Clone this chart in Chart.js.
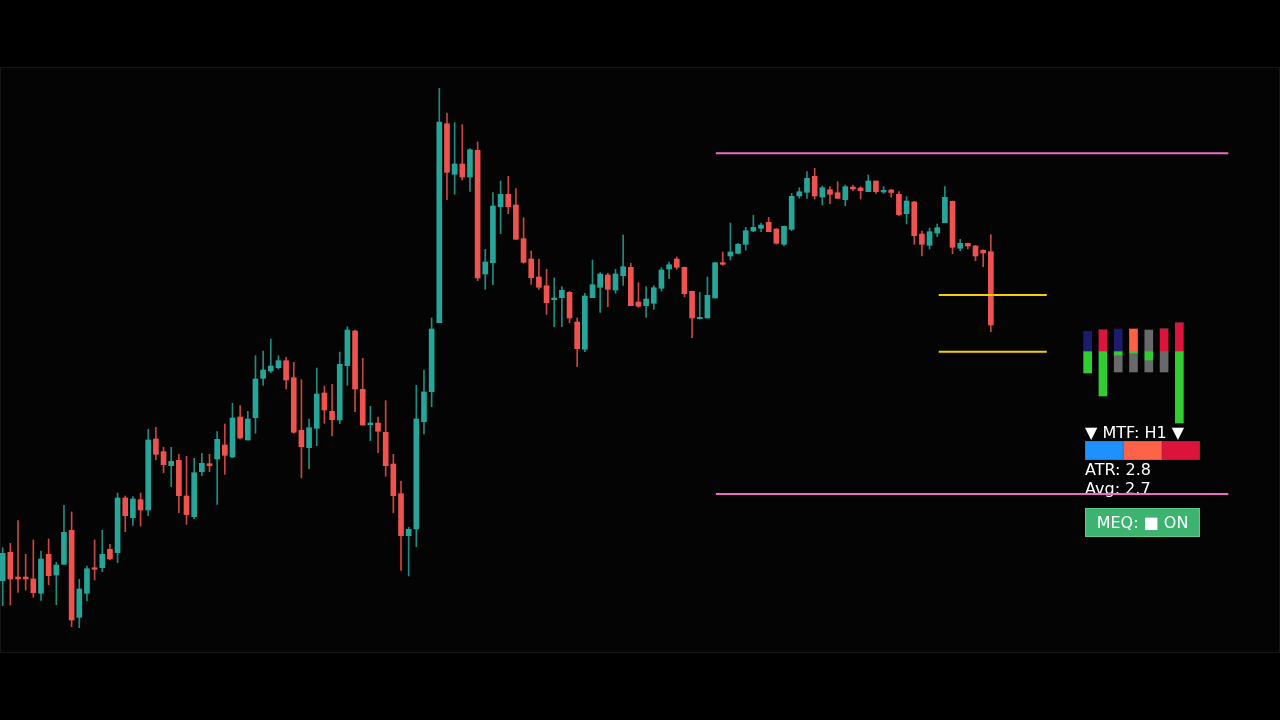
<!DOCTYPE html>
<html>
<head>
<meta charset="utf-8">
<script src="https://cdn.jsdelivr.net/npm/chart.js@4.4.1/dist/chart.umd.min.js"></script>
<style>
  html, body { margin:0; padding:0; background:#000; width:1280px; height:720px; overflow:hidden; font-family:"DejaVu Sans", sans-serif; }
  #frame { position:absolute; left:0; top:67px; width:1278px; height:584px; border:1px solid #161616; background:#040404; }
  #main { position:absolute; left:0; top:0; z-index:5; }
  #strength { position:absolute; left:1080px; top:320px; z-index:2; }
  #mtfBar { position:absolute; left:1085px; top:441px; z-index:2; }
  .txt { position:absolute; left:1085px; color:#fff; font-size:16px; line-height:16px; white-space:nowrap; z-index:2; }
  #meq { position:absolute; left:1085px; top:508px; width:113px; height:27px; background:#3cb371; border:1px solid #5ccb8c;
         color:#fff; font-size:16px; line-height:27px; text-align:center; z-index:2; }
</style>
</head>
<body>
<div id="frame"></div>
<canvas id="strength" width="107" height="110"></canvas>
<div class="txt" style="top:425px;">▼ MTF: H1 ▼</div>
<canvas id="mtfBar" width="115" height="19"></canvas>
<div class="txt" style="top:462px;">ATR: 2.8</div>
<div class="txt" style="top:481px;">Avg: 2.7</div>
<div id="meq">MEQ: ■ ON</div>
<canvas id="main" width="1280" height="720"></canvas>
<script>
// OHLC series (one entry per candle, oldest first)
const opens = [
  2341.93, 2344.77, 2342.30, 2342.30, 2342.10, 2340.67, 2344.57, 2342.50, 2343.57, 2346.97,
  2338.27, 2340.67, 2343.23, 2343.23, 2345.07, 2344.73, 2350.20, 2348.23, 2350.03, 2349.00,
  2356.10, 2354.83, 2353.43, 2353.97, 2350.40, 2348.33, 2352.83, 2353.63, 2354.10, 2355.50,
  2354.30, 2358.30, 2356.00, 2358.23, 2362.17, 2362.90, 2363.23, 2363.93, 2362.23, 2356.97,
  2355.23, 2357.17, 2360.70, 2358.87, 2358.00, 2363.43, 2366.90, 2361.07, 2357.53, 2357.70,
  2356.77, 2353.60, 2350.63, 2346.43, 2347.10, 2357.83, 2360.83, 2367.73, 2387.63, 2382.57,
  2383.60, 2382.30, 2384.97, 2372.60, 2373.73, 2379.33, 2380.57, 2379.50, 2376.13, 2374.10,
  2372.30, 2371.43, 2370.03, 2370.23, 2370.77, 2367.80, 2365.07, 2370.23, 2371.27, 2372.50,
  2371.00, 2372.43, 2373.27, 2369.80, 2369.43, 2369.67, 2371.17, 2373.10, 2374.10, 2373.27,
  2370.87, 2368.13, 2368.20, 2370.20, 2373.73, 2374.40, 2374.67, 2375.57, 2376.90, 2377.17,
  2377.77, 2377.10, 2375.57, 2377.07, 2380.40, 2380.77, 2382.37, 2380.30, 2381.03, 2380.73,
  2380.03, 2381.30, 2381.20, 2380.83, 2381.90, 2380.80, 2381.00, 2380.57, 2378.63, 2379.80,
  2376.60, 2375.47, 2376.70, 2377.73, 2379.87, 2375.17, 2375.67, 2375.40, 2374.97, 2374.83
];
const highs = [
  2345.23, 2345.67, 2347.93, 2344.57, 2346.00, 2344.90, 2346.10, 2343.77, 2349.47, 2348.80,
  2342.07, 2343.40, 2346.00, 2346.97, 2345.57, 2350.70, 2350.40, 2350.33, 2350.70, 2357.07,
  2357.27, 2355.27, 2355.27, 2354.57, 2354.37, 2354.17, 2354.67, 2354.57, 2356.83, 2357.60,
  2359.67, 2359.43, 2358.87, 2364.43, 2364.90, 2366.10, 2364.43, 2364.27, 2363.77, 2362.03,
  2358.10, 2363.20, 2361.40, 2361.57, 2364.80, 2367.33, 2367.00, 2364.17, 2359.37, 2358.30,
  2359.93, 2354.57, 2351.87, 2347.27, 2361.47, 2363.00, 2368.20, 2391.17, 2388.70, 2387.73,
  2387.53, 2385.13, 2385.80, 2375.07, 2380.73, 2381.90, 2382.37, 2381.13, 2378.23, 2374.90,
  2374.10, 2373.07, 2372.20, 2371.33, 2370.87, 2368.20, 2370.67, 2374.00, 2372.73, 2372.67,
  2373.07, 2376.50, 2373.67, 2371.73, 2371.33, 2371.43, 2373.23, 2373.80, 2374.30, 2373.30,
  2370.90, 2370.77, 2372.30, 2373.77, 2374.80, 2377.70, 2375.67, 2377.27, 2378.47, 2377.70,
  2378.27, 2377.13, 2377.40, 2380.67, 2381.23, 2382.83, 2383.17, 2381.40, 2381.33, 2381.83,
  2381.50, 2381.50, 2381.33, 2382.50, 2381.90, 2381.33, 2381.07, 2380.83, 2380.33, 2379.87,
  2376.90, 2377.20, 2377.60, 2381.33, 2379.90, 2376.07, 2375.70, 2375.47, 2375.03, 2376.53
];
const lows = [
  2339.43, 2339.50, 2340.77, 2341.00, 2340.27, 2339.97, 2341.53, 2339.53, 2343.57, 2337.33,
  2337.23, 2339.90, 2342.00, 2342.83, 2344.00, 2343.73, 2346.83, 2347.47, 2347.40, 2348.43,
  2354.00, 2352.73, 2351.33, 2348.73, 2347.57, 2348.13, 2352.43, 2352.83, 2349.57, 2352.57,
  2354.23, 2356.10, 2356.00, 2356.67, 2361.47, 2362.73, 2363.10, 2361.10, 2356.67, 2352.20,
  2353.13, 2355.43, 2357.67, 2356.40, 2357.63, 2361.47, 2358.83, 2357.47, 2355.93, 2354.73,
  2352.37, 2348.73, 2342.97, 2342.40, 2345.33, 2356.60, 2359.33, 2367.73, 2380.03, 2380.57,
  2382.00, 2380.87, 2371.93, 2371.07, 2371.53, 2376.63, 2378.63, 2376.07, 2373.67, 2371.57,
  2371.07, 2368.57, 2367.33, 2367.33, 2367.73, 2363.33, 2364.83, 2370.23, 2368.77, 2369.33,
  2370.67, 2371.47, 2369.43, 2369.27, 2368.27, 2369.07, 2370.90, 2372.13, 2373.07, 2370.33,
  2366.23, 2368.10, 2368.20, 2370.20, 2373.47, 2374.00, 2374.60, 2375.00, 2376.83, 2376.83,
  2376.83, 2375.60, 2375.40, 2376.93, 2380.17, 2380.17, 2380.10, 2379.50, 2379.63, 2380.13,
  2379.43, 2380.93, 2380.10, 2380.83, 2380.67, 2380.67, 2380.27, 2378.43, 2377.60, 2375.57,
  2374.40, 2375.10, 2376.33, 2377.73, 2374.63, 2374.93, 2375.10, 2373.93, 2373.33, 2366.83
];
const closes = [
  2344.67, 2342.10, 2342.10, 2342.10, 2340.73, 2344.10, 2342.43, 2343.50, 2346.77, 2338.00,
  2341.10, 2343.13, 2343.07, 2344.57, 2344.10, 2350.20, 2348.43, 2350.10, 2349.00, 2356.00,
  2354.57, 2353.53, 2353.87, 2350.43, 2348.53, 2352.73, 2353.67, 2353.43, 2356.07, 2354.47,
  2358.20, 2356.20, 2358.10, 2362.10, 2363.00, 2363.40, 2363.93, 2362.00, 2356.77, 2355.33,
  2357.23, 2360.60, 2359.00, 2358.03, 2363.57, 2367.00, 2361.10, 2357.50, 2357.70, 2356.87,
  2353.43, 2350.43, 2346.43, 2347.07, 2358.10, 2360.80, 2367.10, 2387.80, 2382.77, 2383.60,
  2382.30, 2385.03, 2372.20, 2373.80, 2379.40, 2380.57, 2379.33, 2376.07, 2373.77, 2372.23,
  2371.27, 2369.73, 2370.20, 2370.97, 2368.20, 2365.13, 2370.40, 2371.53, 2372.60, 2371.07,
  2372.60, 2373.33, 2369.43, 2369.37, 2370.10, 2371.23, 2373.00, 2373.53, 2373.27, 2370.63,
  2368.20, 2368.27, 2370.47, 2373.73, 2373.57, 2374.80, 2375.57, 2376.93, 2377.27, 2377.50,
  2376.83, 2375.67, 2377.37, 2380.37, 2380.83, 2382.17, 2380.40, 2381.23, 2380.57, 2380.17,
  2381.33, 2381.10, 2380.93, 2381.90, 2380.83, 2380.97, 2380.75, 2378.53, 2379.90, 2376.43,
  2375.57, 2376.83, 2377.23, 2380.27, 2375.27, 2375.67, 2375.40, 2374.40, 2374.70, 2367.50
];

// range / zone levels (price) and their span in candle numbers
const rangeHigh = 2384.67, rangeLow = 2350.60;
const rangeFrom = 94.1, rangeTo = 161.0;
const zoneHigh = 2370.50, zoneLow = 2364.83;
const zoneFrom = 123.2, zoneTo = 137.3;

// MTF strength columns
const tfLabels = ['M1', 'M5', 'M15', 'M30', 'H1', 'H4', 'D1'];
const biasUp = [19, 21, 22, 22, 21, 22, 28];
const momentumDown = [-22, -45, -4, -2, -9, 0, -72];
const neutralDown = [0, 0, -17, -19, -12, -21, 0];

// MTF trend strip
const mtfStrip = ['Bull', 'Weak', 'Bear'];
const mtfShare = [1, 1, 1];

const UP = '#26a69a', DOWN = '#ef5350';
const UP_WICK = '#1f8c82', DOWN_WICK = '#c94741';

const candleNo = opens.map((_, i) => i + 1);
const bodies = candleNo.map((x, i) => ({ x, y: [opens[i], closes[i]] }));
const wicks = candleNo.map((x, i) => ({ x, y: [lows[i], highs[i]] }));
const isUp = candleNo.map((_, i) => closes[i] >= opens[i]);
const bodyColors = isUp.map(u => u ? UP : DOWN);
const wickColors = isUp.map(u => u ? UP_WICK : DOWN_WICK);

Chart.defaults.font.family = '"DejaVu Sans", sans-serif';

new Chart(document.getElementById('main').getContext('2d'), {
  type: 'bar',
  data: {
    datasets: [
      { type: 'line', data: [{ x: rangeFrom, y: rangeHigh }, { x: rangeTo, y: rangeHigh }],
        borderColor: '#f06cc0', borderWidth: 2, pointRadius: 0, order: 0 },
      { type: 'line', data: [{ x: rangeFrom, y: rangeLow }, { x: rangeTo, y: rangeLow }],
        borderColor: '#f06cc0', borderWidth: 2, pointRadius: 0, order: 0 },
      { type: 'line', data: [{ x: zoneFrom, y: zoneHigh }, { x: zoneTo, y: zoneHigh }],
        borderColor: '#f5d000', borderWidth: 2, pointRadius: 0, order: 0 },
      { type: 'line', data: [{ x: zoneFrom, y: zoneLow }, { x: zoneTo, y: zoneLow }],
        borderColor: '#f5d000', borderWidth: 2, pointRadius: 0, order: 0 },
      { data: bodies, backgroundColor: bodyColors, barThickness: 5, minBarLength: 1,
        grouped: false, borderWidth: 0, order: 1 },
      { data: wicks, backgroundColor: wickColors, barThickness: 1,
        grouped: false, borderWidth: 0, order: 2 }
    ]
  },
  options: {
    responsive: false,
    animation: false,
    events: [],
    layout: { padding: 0 },
    plugins: { legend: { display: false }, tooltip: { enabled: false } },
    scales: {
      x: { type: 'linear', display: false, offset: false, min: 0.65, max: 167.75 },
      y: { type: 'linear', display: false, min: 2328, max: 2400 }
    }
  }
});

// MTF strength columns
new Chart(document.getElementById('strength').getContext('2d'), {
  type: 'bar',
  data: {
    labels: tfLabels,
    datasets: [
      { data: biasUp, backgroundColor: ['#1c1c6e', '#dc143c', '#1c1c6e', '#ff6347', '#696969', '#dc143c', '#dc143c'] },
      { data: momentumDown, backgroundColor: '#32cd32' },
      { data: neutralDown, backgroundColor: '#696969' }
    ]
  },
  options: {
    responsive: false,
    animation: false,
    events: [],
    layout: { padding: 0 },
    datasets: { bar: { barThickness: 8, borderWidth: 0 } },
    plugins: { legend: { display: false }, tooltip: { enabled: false } },
    scales: {
      x: { stacked: true, display: false },
      y: { stacked: true, display: false, min: -79, max: 31 }
    }
  }
});

// MTF trend strip
new Chart(document.getElementById('mtfBar').getContext('2d'), {
  type: 'bar',
  data: {
    labels: ['MTF'],
    datasets: mtfStrip.map((name, i) => ({
      label: name,
      data: [mtfShare[i]],
      backgroundColor: ['#1e90ff', '#ff6347', '#dc143c'][i],
      borderColor: ['#1a78d8', '#e0533a', '#b81232'][i],
      borderWidth: 1,
      borderSkipped: false,
      categoryPercentage: 1,
      barPercentage: 1
    }))
  },
  options: {
    indexAxis: 'y',
    responsive: false,
    animation: false,
    events: [],
    layout: { padding: 0 },
    plugins: { legend: { display: false }, tooltip: { enabled: false } },
    scales: {
      x: { stacked: true, display: false, min: 0, max: 3 },
      y: { stacked: true, display: false }
    }
  }
});
</script>
</body>
</html>
